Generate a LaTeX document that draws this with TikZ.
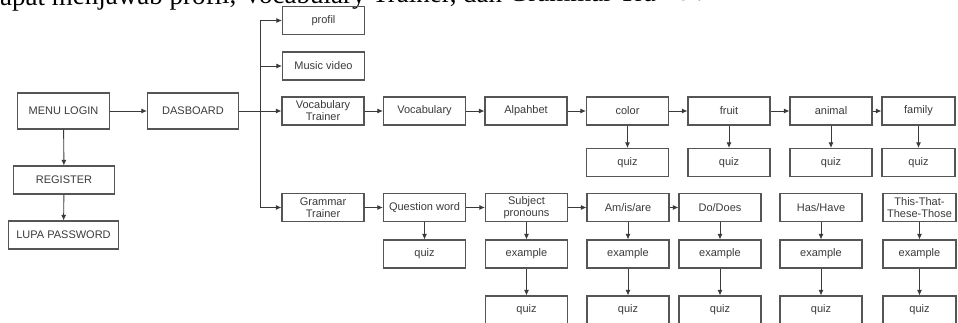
\documentclass[tikz,border=0pt]{standalone}
\usepackage{fontspec}
\setmainfont{Liberation Sans}
\newfontfamily\serifline{Liberation Serif}
\usetikzlibrary{arrows.meta}
\definecolor{boxline}{HTML}{555555}
\definecolor{boxtext}{HTML}{3A3A3A}
\begin{document}
\begin{tikzpicture}[x=1pt,y=-1pt,>={Latex[length=5.5pt,width=5pt]},font=\fontsize{11}{12}\selectfont,
	box/.style={draw=boxline,line width=1.1pt,text=boxtext,align=center,minimum width=82pt,minimum height=28pt,inner sep=1pt},
	wide/.style={box,minimum height=36pt},
	link/.style={->,line width=0.9pt,draw=boxtext}]
	\clip (0,0) rectangle (958,322);
	\node[anchor=base west,rotate=0.4,inner sep=0pt,font=\serifline\fontsize{27}{30}\selectfont] (topline) at (0,5.5) {apat menjawab profil, Vocabulary Trainer, dan Grammar Trainer.};
	\node[wide,minimum width=92pt] (login) at (63.5,111) {MENU LOGIN};
	\node[wide,minimum width=91pt] (dash) at (193,111) {DASBOARD};
	\node[box,minimum width=101pt] (reg) at (64,180) {REGISTER};
	\node[box,minimum width=110pt] (lupa) at (63.5,235) {LUPA PASSWORD};
	\node[box] (profil) at (323.5,20.5) {profil};
	\node[box] (music) at (323.5,66) {Music video};
	\node[box] (vtrain) at (323,111) {Vocabulary\\Trainer};
	\node[box] (gtrain) at (323,207.5) {Grammar\\Trainer};
	\node[box] (vocab) at (424.5,111) {Vocabulary};
	\node[box] (alpha) at (526,111) {Alpahbet};
	\node[box] (color) at (627.5,111) {color};
	\node[box] (fruit) at (729,111) {fruit};
	\node[box] (animal) at (831,111) {animal};
	\node[box,minimum width=73pt] (family) at (918.5,111) {family};
	\node[box] (qword) at (424.5,207.5) {Question word};
	\node[box] (subj) at (526.5,207.5) {Subject\\pronouns};
	\node[box] (amis) at (628,207.5) {Am/is/are};
	\node[box] (dodoes) at (720,207.5) {Do/Does};
	\node[box] (hashave) at (821,207.5) {Has/Have};
	\node[box,minimum width=73pt] (this) at (919.5,207.5) {This-That-\\These-Those};
	\coordinate (fork) at (260.5,111);
	\draw[link] (login) -- (dash);
	\draw[link] (login) -- (reg);
	\draw[link] (reg) -- (lupa);
	\draw[line width=0.9pt,draw=boxtext] (dash) -- (fork);
	\draw[link] (fork) |- (profil);
	\draw[link] (fork) |- (music);
	\draw[link] (fork) -- (vtrain);
	\draw[link] (fork) |- (gtrain);
	\draw[link] (vtrain) -- (vocab);
	\draw[link] (vocab) -- (alpha);
	\draw[link] (alpha) -- (color);
	\draw[link] (color) -- (fruit);
	\draw[link] (fruit) -- (animal);
	\draw[link] (animal) -- (family);
	\draw[link] (gtrain) -- (qword);
	\draw[link] (qword) -- (subj);
	\draw[link] (subj) -- (amis);
	\draw[link] (amis) -- (dodoes);
	\foreach \n/\x/\w in {color/627.5/82,fruit/729/82,animal/831/82,family/918.5/73}{
		\node[box,minimum width=\w pt] (q\n) at (\x,162.5) {quiz};
		\draw[link] (\n) -- (q\n);}
	\node[box] (qqword) at (424.5,254) {quiz};
	\draw[link] (qword) -- (qqword);
	\foreach \n/\x/\w in {subj/526.5/82,amis/628/82,dodoes/720/82,hashave/821/82,this/919.5/73}{
		\node[box,minimum width=\w pt] (ex\n) at (\x,254) {example};
		\node[box,minimum width=\w pt] (q\n) at (\x,310) {quiz};
		\draw[link] (\n) -- (ex\n);
		\draw[link] (ex\n) -- (q\n);}
\end{tikzpicture}
\end{document}
